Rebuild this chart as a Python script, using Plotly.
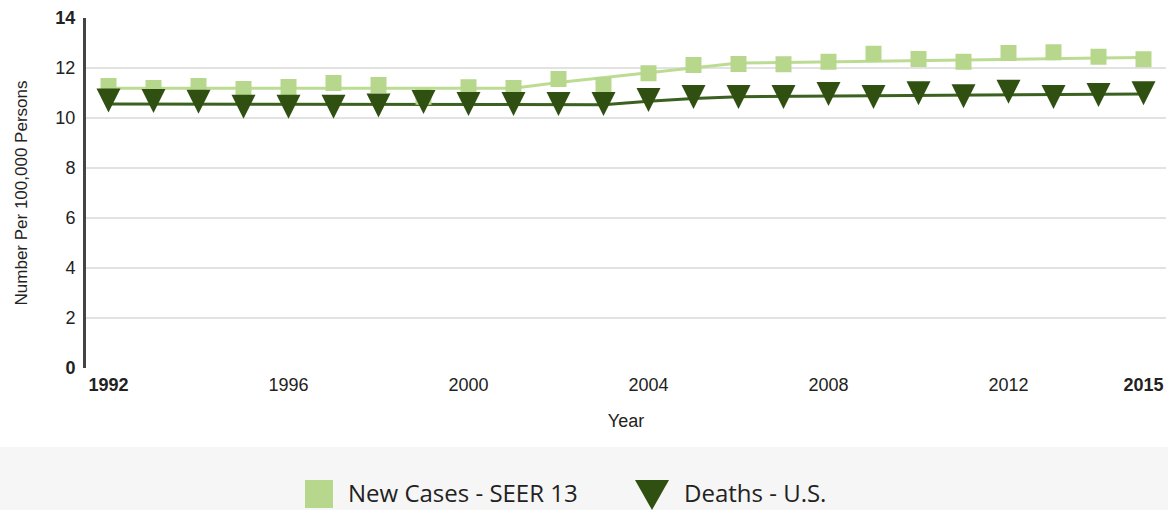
import plotly.graph_objects as go

# ---- data ----
years = list(range(1992, 2016))
new_cases = [11.28, 11.20, 11.28, 11.16, 11.24, 11.40, 11.32, 10.85, 11.23, 11.20,
             11.56, 11.32, 11.79, 12.12, 12.16, 12.15, 12.25, 12.57, 12.36, 12.25,
             12.60, 12.63, 12.45, 12.35]
new_cases_trend = [11.19, 11.19, 11.19, 11.19, 11.19, 11.19, 11.19, 11.19, 11.19, 11.19,
                   11.42, 11.62, 11.82, 12.02, 12.20, 12.22, 12.25, 12.27, 12.30, 12.32,
                   12.35, 12.37, 12.40, 12.42]
deaths = [10.70, 10.68, 10.65, 10.45, 10.45, 10.45, 10.50, 10.64, 10.56, 10.56,
          10.56, 10.56, 10.72, 10.84, 10.84, 10.84, 10.96, 10.84, 10.99, 10.87,
          11.05, 10.84, 10.92, 10.99]
deaths_trend = [10.56, 10.56, 10.55, 10.55, 10.55, 10.54, 10.54, 10.54, 10.54, 10.53,
                10.53, 10.53, 10.67, 10.78, 10.85, 10.86, 10.87, 10.89, 10.90, 10.91,
                10.92, 10.93, 10.94, 10.96]
x_tick_vals = [1992, 1996, 2000, 2004, 2008, 2012, 2015]
x_tick_text = ["<b>1992</b>", "1996", "2000", "2004", "2008", "2012", "<b>2015</b>"]
y_tick_vals = [0, 2, 4, 6, 8, 10, 12, 14]
y_tick_text = ["<b>0</b>", "2", "4", "6", "8", "10", "12", "<b>14</b>"]
series_names = ["New Cases - SEER 13", "Deaths - U.S."]

# ---- style ----
NC_COLOR = "#b7d78c"
NC_LINE = "#bddc93"
D_COLOR = "#2f5010"
D_LINE = "#3b6120"
W, H = 1168, 510
ML, MR, MT, MB = 86, 2, 18, 142
PW, PH = W - ML - MR, H - MT - MB


def px_x(p):
    return (p - ML) / PW


def px_y(p):
    return (MT + PH - p) / PH


fig = go.Figure()
fig.add_trace(go.Scatter(x=years, y=new_cases_trend, mode="lines",
                         line=dict(color=NC_LINE, width=3), showlegend=False,
                         name=series_names[0] + " trend"))
fig.add_trace(go.Scatter(x=years, y=deaths_trend, mode="lines",
                         line=dict(color=D_LINE, width=3), showlegend=False,
                         name=series_names[1] + " trend"))
fig.add_trace(go.Scatter(x=years, y=new_cases, mode="markers",
                         marker=dict(symbol="square", size=16, color=NC_COLOR,
                                     line=dict(width=0)),
                         showlegend=False, name=series_names[0]))
fig.add_trace(go.Scatter(x=years, y=deaths, mode="markers",
                         marker=dict(symbol="arrow-down", size=24, standoff=12,
                                     color=D_COLOR, line=dict(width=0)),
                         showlegend=False, name=series_names[1]))

tick_font = dict(family="Liberation Sans, Arial, sans-serif", size=18, color="#222")

fig.update_xaxes(range=[1991.5, 2015.5], tickvals=x_tick_vals, ticktext=x_tick_text,
                 tickfont=tick_font, showgrid=False, zeroline=False, showline=False,
                 ticks="", ticklabelstandoff=4,
                 title=dict(text="Year", standoff=20,
                            font=dict(family="Liberation Sans, Arial, sans-serif",
                                      size=18, color="#222")))
fig.update_yaxes(range=[0, 14], tickvals=y_tick_vals, ticktext=y_tick_text,
                 tickfont=tick_font, showgrid=True, gridcolor="#e2e2e2", gridwidth=2,
                 zeroline=False, showline=True, linecolor="#444", linewidth=3,
                 ticks="", ticklabelstandoff=4,
                 title=dict(text="Number Per 100,000 Persons", standoff=24,
                            font=dict(family="Liberation Sans, Arial, sans-serif",
                                      size=17, color="#222")))

shapes = [
    dict(type="rect", xref="paper", yref="paper", layer="below",
         x0=px_x(0), x1=px_x(W), y0=px_y(H), y1=px_y(447),
         fillcolor="#f6f6f6", line=dict(width=0)),
    dict(type="rect", xref="paper", yref="paper",
         x0=px_x(305), x1=px_x(333), y0=px_y(508), y1=px_y(480),
         fillcolor=NC_COLOR, line=dict(width=0)),
    dict(type="path", xref="paper", yref="paper",
         path="M {:.5f},{:.5f} L {:.5f},{:.5f} L {:.5f},{:.5f} Z".format(
             px_x(635), px_y(480), px_x(669), px_y(480), px_x(652), px_y(510)),
         fillcolor=D_COLOR, line=dict(width=0)),
]
legend_font = dict(family="Open Sans, sans-serif", size=24, color="#222")
annotations = [
    dict(text=series_names[0], xref="paper", yref="paper", x=px_x(346), y=px_y(492),
         xanchor="left", yanchor="middle", showarrow=False, font=legend_font),
    dict(text=series_names[1], xref="paper", yref="paper", x=px_x(682), y=px_y(492),
         xanchor="left", yanchor="middle", showarrow=False, font=legend_font),
]

fig.update_layout(width=W, height=H, margin=dict(l=ML, r=MR, t=MT, b=MB),
                  paper_bgcolor="white", plot_bgcolor="white",
                  shapes=shapes, annotations=annotations, showlegend=False)

fig.write_html("out.html", config={"displayModeBar": False},
               post_script="document.body.style.margin='0';document.body.style.padding='0';")
